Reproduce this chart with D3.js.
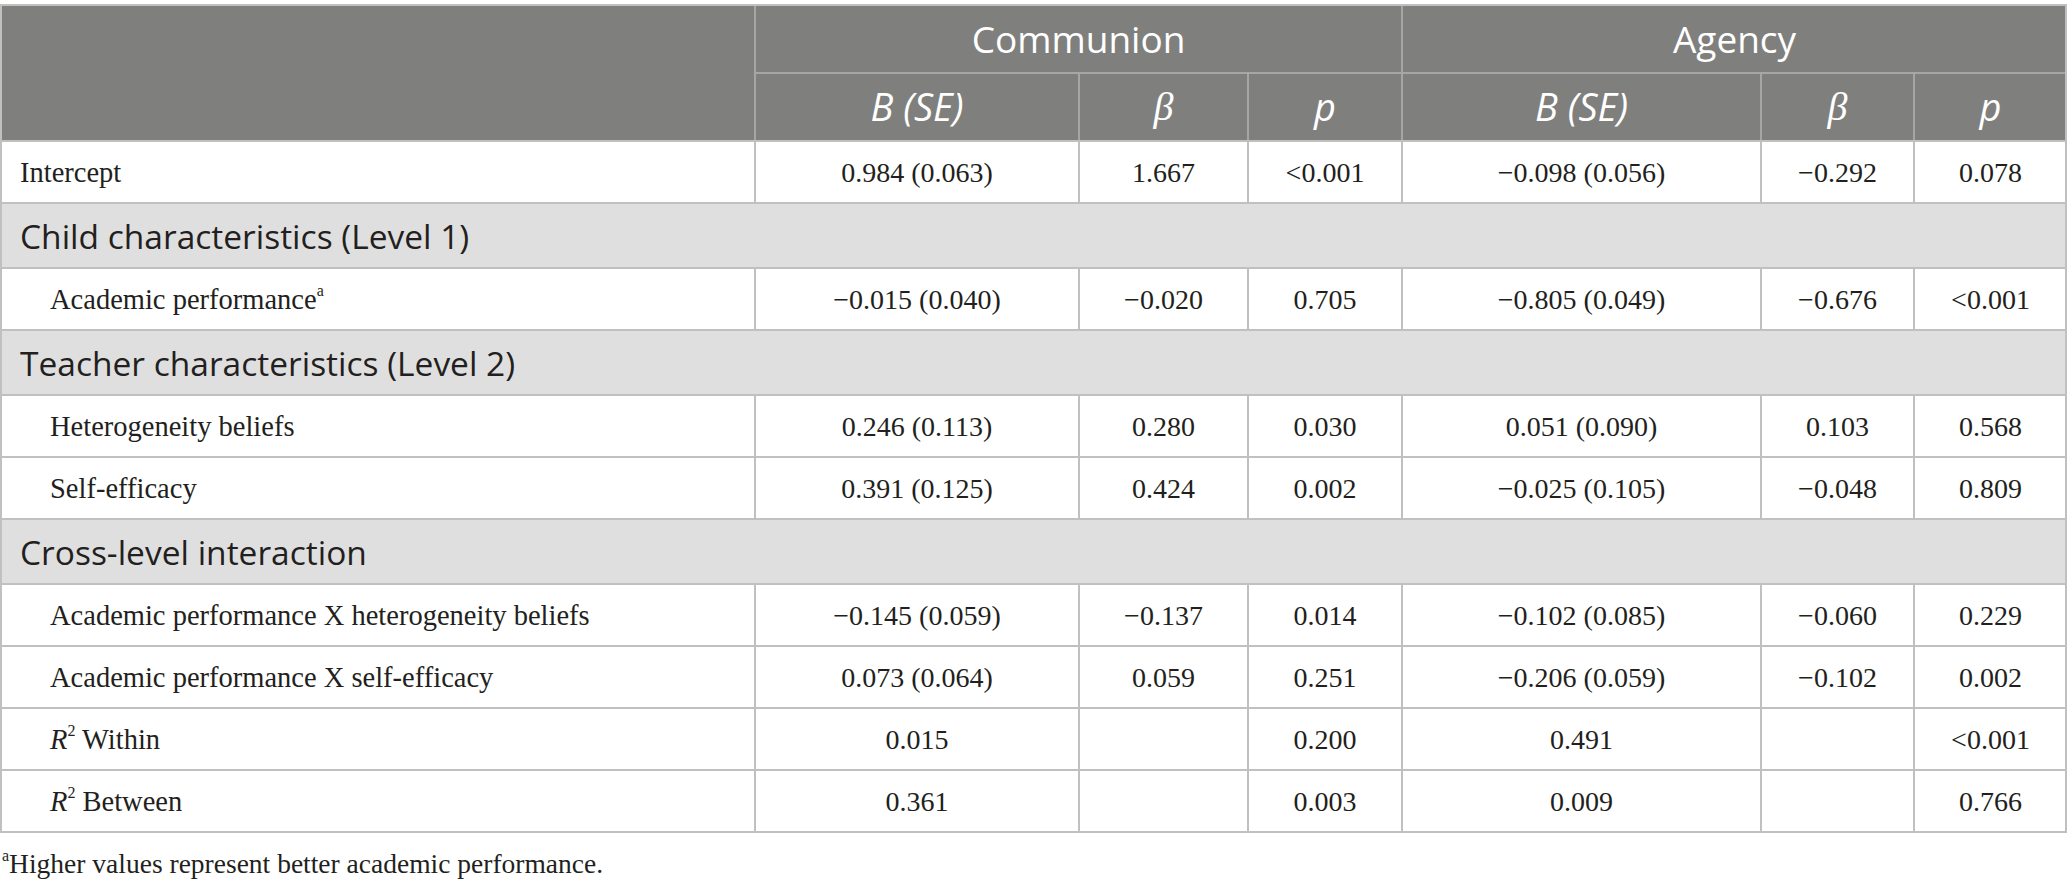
<!DOCTYPE html>
<html>
<head>
<meta charset="utf-8">
<script src="https://cdn.jsdelivr.net/npm/d3@7"></script>
<style>
  html, body { margin: 0; padding: 0; background: #fff; }
  svg { display: block; }
</style>
</head>
<body>
<div id="main"></div>
<script>
// table content
const groups = ["Communion", "Agency"];
const statCols = ["B (SE)", "β", "p"];

const rowLabels = [
    "Intercept",
    "Child characteristics (Level 1)",
    "Academic performance",
    "Teacher characteristics (Level 2)",
    "Heterogeneity beliefs",
    "Self-efficacy",
    "Cross-level interaction",
    "Academic performance X heterogeneity beliefs",
    "Academic performance X self-efficacy",
    "Within",
    "Between"
];
// "section" rows span the whole table, "top" rows are not indented
const rowKinds = ["top", "section", "item", "section", "item", "item", "section", "item", "item", "r2", "r2"];
const rowNotes = ["", "", "a", "", "", "", "", "", "", "", ""];

const communionB = ["0.984 (0.063)", null, "−0.015 (0.040)", null, "0.246 (0.113)", "0.391 (0.125)", null, "−0.145 (0.059)", "0.073 (0.064)", "0.015", "0.361"];
const communionBeta = ["1.667", null, "−0.020", null, "0.280", "0.424", null, "−0.137", "0.059", "", ""];
const communionP = ["<0.001", null, "0.705", null, "0.030", "0.002", null, "0.014", "0.251", "0.200", "0.003"];
const agencyB = ["−0.098 (0.056)", null, "−0.805 (0.049)", null, "0.051 (0.090)", "−0.025 (0.105)", null, "−0.102 (0.085)", "−0.206 (0.059)", "0.491", "0.009"];
const agencyBeta = ["−0.292", null, "−0.676", null, "0.103", "−0.048", null, "−0.060", "−0.102", "", ""];
const agencyP = ["0.078", null, "<0.001", null, "0.568", "0.809", null, "0.229", "0.002", "<0.001", "0.766"];

const footnote = "Higher values represent better academic performance.";

// layout
const ctx = {
    w: 2067,
    h: 883,
    top: 5,
    HEAD_H: 68,
    ROW_H: 62,
    SECTION_H: 65,
    HEAD_BG: "#7f807e",
    SECTION_BG: "#e0dfe0",
    LINE: "#c0c0c0",
    HEAD_LINE: "#a6a7a5",
    TEXT: "#231f20",
    SANS: "'Open Sans', 'Noto Sans', sans-serif",
    SERIF: "'Liberation Serif', 'Times New Roman', serif",
};

const colKeys = ["label", "cB", "cBeta", "cP", "aB", "aBeta", "aP"];
const colWidths = [755, 324, 169, 154, 359, 153, 153];
const colEdges = d3.cumsum([0].concat(colWidths));
const xLeft = d3.scaleOrdinal().domain(colKeys).range(colEdges.slice(0, 7));
const xRight = d3.scaleOrdinal().domain(colKeys).range(colEdges.slice(1));
const xMid = k => (xLeft(k) + xRight(k)) / 2;

const columns = [communionB, communionBeta, communionP, agencyB, agencyBeta, agencyP];

const rowHeights = rowKinds.map(k => k === "section" ? ctx.SECTION_H : ctx.ROW_H);
const bodyTop = ctx.top + 2 * ctx.HEAD_H;
const rowTops = d3.cumsum([bodyTop].concat(rowHeights));
const yTop = d3.scaleOrdinal().domain(d3.range(rowLabels.length)).range(rowTops.slice(0, rowLabels.length));
const yMid = i => yTop(i) + rowHeights[i] / 2;
const tableBottom = rowTops[rowLabels.length];

function createViz(){
    const svg = d3.select("#main").append("svg")
        .attr("width", ctx.w)
        .attr("height", ctx.h);

    drawHeader(svg);
    drawBody(svg);
    drawGrid(svg);

    // footnote
    const fn = svg.append("text")
        .attr("x", 2)
        .attr("y", tableBottom + 31)
        .attr("dominant-baseline", "central")
        .attr("font-family", ctx.SERIF)
        .attr("font-size", 27.5)
        .attr("fill", ctx.TEXT);
    fn.append("tspan").attr("font-size", 16).attr("dy", -8).text("a");
    fn.append("tspan").attr("dy", 8).text(footnote);
};

function drawHeader(svg){
    const g = svg.append("g").attr("id", "header");
    g.append("rect")
        .attr("x", 0).attr("y", ctx.top)
        .attr("width", ctx.w).attr("height", 2 * ctx.HEAD_H)
        .attr("fill", ctx.HEAD_BG);

    // group titles spanning three columns each
    const spans = [["cB", "cP"], ["aB", "aP"]];
    g.selectAll("text.group")
        .data(groups)
        .enter()
        .append("text")
        .attr("class", "group")
        .attr("x", (d, i) => (xLeft(spans[i][0]) + xRight(spans[i][1])) / 2)
        .attr("y", ctx.top + ctx.HEAD_H / 2 - 1)
        .attr("text-anchor", "middle")
        .attr("dominant-baseline", "central")
        .attr("font-family", ctx.SANS)
        .attr("font-size", 37)
        .attr("fill", "#fff")
        .text(d => d);

    const subKeys = colKeys.slice(1);
    g.selectAll("text.stat")
        .data(subKeys)
        .enter()
        .append("text")
        .attr("class", "stat")
        .attr("x", d => xMid(d))
        .attr("y", ctx.top + ctx.HEAD_H * 1.5 - 1)
        .attr("text-anchor", "middle")
        .attr("dominant-baseline", "central")
        .attr("font-family", (d, i) => i % 3 === 1 ? ctx.SERIF : ctx.SANS)
        .attr("font-style", "italic")
        .attr("font-size", (d, i) => i % 3 === 1 ? 40 : 38)
        .attr("fill", "#fff")
        .text((d, i) => statCols[i % 3]);

    // header lines
    g.append("line")
        .attr("x1", xLeft("cB")).attr("x2", ctx.w)
        .attr("y1", ctx.top + ctx.HEAD_H).attr("y2", ctx.top + ctx.HEAD_H)
        .attr("stroke", ctx.HEAD_LINE).attr("stroke-width", 2);
    g.selectAll("line.full")
        .data(["cB", "aB"])
        .enter()
        .append("line")
        .attr("class", "full")
        .attr("x1", d => xLeft(d)).attr("x2", d => xLeft(d))
        .attr("y1", ctx.top).attr("y2", bodyTop)
        .attr("stroke", ctx.HEAD_LINE).attr("stroke-width", 2);
    g.selectAll("line.half")
        .data(["cBeta", "cP", "aBeta", "aP"])
        .enter()
        .append("line")
        .attr("class", "half")
        .attr("x1", d => xLeft(d)).attr("x2", d => xLeft(d))
        .attr("y1", ctx.top + ctx.HEAD_H).attr("y2", bodyTop)
        .attr("stroke", ctx.HEAD_LINE).attr("stroke-width", 2);
};

function drawBody(svg){
    const g = svg.append("g").attr("id", "body");
    const rows = g.selectAll("g.row")
        .data(rowLabels)
        .enter()
        .append("g")
        .attr("class", "row");

    rows.append("rect")
        .attr("x", 0)
        .attr("y", (d, i) => yTop(i))
        .attr("width", ctx.w)
        .attr("height", (d, i) => rowHeights[i])
        .attr("fill", (d, i) => rowKinds[i] === "section" ? ctx.SECTION_BG : "#fff");

    // row labels
    rows.each(function(d, i){
        const kind = rowKinds[i];
        const t = d3.select(this).append("text")
            .attr("x", kind === "section" || kind === "top" ? 20 : 50)
            .attr("y", yMid(i))
            .attr("dominant-baseline", "central")
            .attr("fill", ctx.TEXT);
        if (kind === "section"){
            t.attr("font-family", ctx.SANS).attr("font-size", 33.5).text(d);
        } else if (kind === "r2"){
            t.attr("font-family", ctx.SERIF).attr("font-size", 28.5);
            t.append("tspan").attr("font-style", "italic").text("R");
            t.append("tspan").attr("font-size", 16).attr("dy", -9).text("2");
            t.append("tspan").attr("dy", 9).text(" " + d);
        } else {
            t.attr("font-family", ctx.SERIF).attr("font-size", 28.5);
            t.append("tspan").text(d);
            if (rowNotes[i]){
                t.append("tspan").attr("font-size", 16).attr("dy", -9).text(rowNotes[i]);
            }
        }
    });

    // values
    columns.forEach(function(vals, c){
        const key = colKeys[c + 1];
        g.selectAll("text.v" + key)
            .data(vals.map((v, i) => ({v: v, i: i})).filter(d => d.v))
            .enter()
            .append("text")
            .attr("class", "v" + key)
            .attr("x", xMid(key))
            .attr("y", d => yMid(d.i))
            .attr("text-anchor", "middle")
            .attr("dominant-baseline", "central")
            .attr("font-family", ctx.SERIF)
            .attr("font-size", 28)
            .attr("fill", ctx.TEXT)
            .text(d => d.v);
    });
};

function drawGrid(svg){
    const g = svg.append("g").attr("id", "grid");
    // horizontal rules under each row
    g.selectAll("line.h")
        .data(rowTops)
        .enter()
        .append("line")
        .attr("class", "h")
        .attr("x1", 0).attr("x2", ctx.w)
        .attr("y1", d => d).attr("y2", d => d)
        .attr("stroke", ctx.LINE).attr("stroke-width", 2);

    // vertical rules on non-section rows
    const dataRows = d3.range(rowLabels.length).filter(i => rowKinds[i] !== "section");
    const cells = [];
    dataRows.forEach(i => colEdges.forEach(x => cells.push({x: x, i: i})));
    g.selectAll("line.v")
        .data(cells)
        .enter()
        .append("line")
        .attr("class", "v")
        .attr("x1", d => Math.min(Math.max(d.x, 1), ctx.w - 1))
        .attr("x2", d => Math.min(Math.max(d.x, 1), ctx.w - 1))
        .attr("y1", d => yTop(d.i))
        .attr("y2", d => yTop(d.i) + rowHeights[d.i])
        .attr("stroke", ctx.LINE).attr("stroke-width", 2);

    // outer frame
    g.append("line")
        .attr("x1", 0).attr("x2", ctx.w)
        .attr("y1", ctx.top).attr("y2", ctx.top)
        .attr("stroke", ctx.LINE).attr("stroke-width", 2);
    g.selectAll("line.side")
        .data([1, ctx.w - 1])
        .enter()
        .append("line")
        .attr("class", "side")
        .attr("x1", d => d).attr("x2", d => d)
        .attr("y1", ctx.top).attr("y2", tableBottom)
        .attr("stroke", ctx.LINE).attr("stroke-width", 2);
};

createViz();
</script>
</body>
</html>
